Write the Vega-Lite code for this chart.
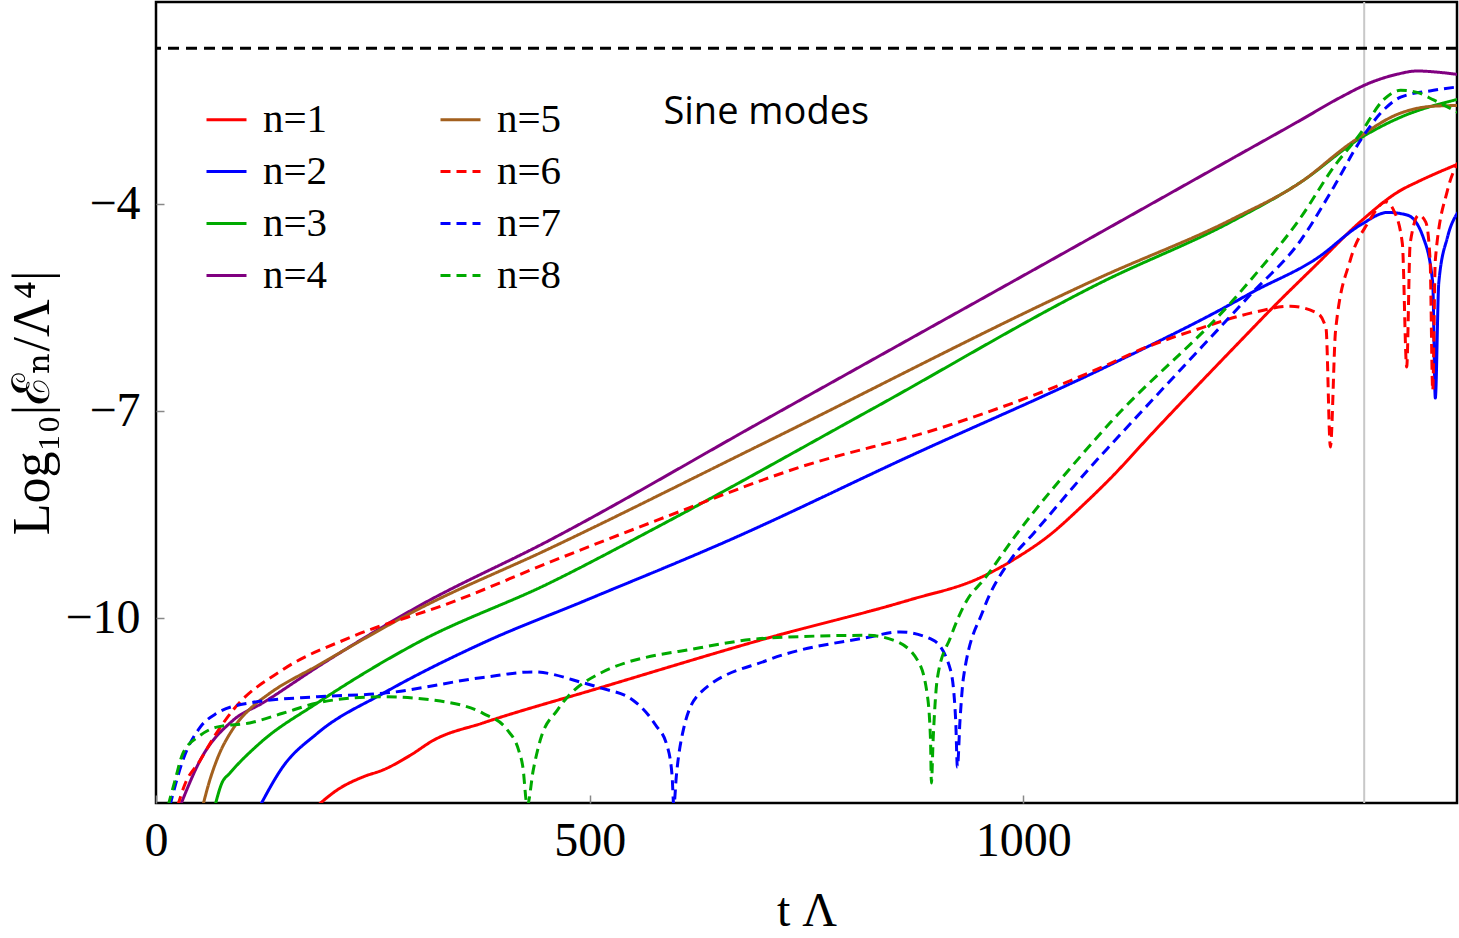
{
  "$schema": "https://vega.github.io/schema/vega-lite/v6.json",
  "width": 1301,
  "height": 801,
  "autosize": {"type": "none"},
  "padding": {"left": 156, "top": 2, "right": 2, "bottom": 135},
  "background": "white",
  "config": {
    "view": {"stroke": "black", "strokeWidth": 2.5},
    "axis": {
      "grid": false, "domain": false,
      "labelFont": "Liberation Serif", "titleFont": "Liberation Serif, DejaVu Serif",
      "labelColor": "black", "titleColor": "black", "titleFontWeight": "normal",
      "tickColor": "#888888", "tickWidth": 1.5, "tickSize": -8,
      "labelFontSize": 48, "titleFontSize": 48
    }
  },
  "datasets": {
    "curves": [
      {"n":"n=1","t":186,"v":-12.72},{"n":"n=1","t":209,"v":-12.49},{"n":"n=1","t":239,"v":-12.30},{"n":"n=1","t":262,"v":-12.20},{"n":"n=1","t":293,"v":-11.99},{"n":"n=1","t":320,"v":-11.77},{"n":"n=1","t":377,"v":-11.52},{"n":"n=1","t":512,"v":-11.01},{"n":"n=1","t":705,"v":-10.29},{"n":"n=1","t":868,"v":-9.74},{"n":"n=1","t":951,"v":-9.41},{"n":"n=1","t":993,"v":-9.12},{"n":"n=1","t":1030,"v":-8.80},{"n":"n=1","t":1069,"v":-8.36},{"n":"n=1","t":1100,"v":-7.98},{"n":"n=1","t":1148,"v":-7.33},{"n":"n=1","t":1262,"v":-5.83},{"n":"n=1","t":1282,"v":-5.57},{"n":"n=1","t":1340,"v":-4.85},{"n":"n=1","t":1389,"v":-4.25},{"n":"n=1","t":1435,"v":-3.80},{"n":"n=1","t":1454,"v":-3.68},{"n":"n=1","t":1501,"v":-3.42},

      {"n":"n=2","t":120,"v":-12.72},{"n":"n=2","t":146,"v":-12.16},{"n":"n=2","t":186,"v":-11.67},{"n":"n=2","t":262,"v":-11.09},{"n":"n=2","t":377,"v":-10.36},{"n":"n=2","t":496,"v":-9.74},{"n":"n=2","t":661,"v":-8.87},{"n":"n=2","t":866,"v":-7.67},{"n":"n=2","t":1100,"v":-6.33},{"n":"n=2","t":1242,"v":-5.43},{"n":"n=2","t":1262,"v":-5.29},{"n":"n=2","t":1339,"v":-4.78},{"n":"n=2","t":1389,"v":-4.30},{"n":"n=2","t":1420,"v":-4.12},{"n":"n=2","t":1443,"v":-4.16},{"n":"n=2","t":1461,"v":-4.48},{"n":"n=2","t":1472,"v":-5.14},{"n":"n=2","t":1475,"v":-6.81},{"n":"n=2","t":1479,"v":-5.14},{"n":"n=2","t":1489,"v":-4.48},{"n":"n=2","t":1501,"v":-4.12},

      {"n":"n=3","t":68,"v":-12.72},{"n":"n=3","t":76,"v":-12.39},{"n":"n=3","t":85,"v":-12.25},{"n":"n=3","t":120,"v":-11.81},{"n":"n=3","t":186,"v":-11.23},{"n":"n=3","t":301,"v":-10.36},{"n":"n=3","t":454,"v":-9.49},{"n":"n=3","t":578,"v":-8.68},{"n":"n=3","t":830,"v":-6.94},{"n":"n=3","t":1089,"v":-5.14},{"n":"n=3","t":1242,"v":-4.24},{"n":"n=3","t":1320,"v":-3.68},{"n":"n=3","t":1389,"v":-3.04},{"n":"n=3","t":1435,"v":-2.74},{"n":"n=3","t":1501,"v":-2.48},

      {"n":"n=4","t":28,"v":-12.72},{"n":"n=4","t":51,"v":-12.06},{"n":"n=4","t":89,"v":-11.48},{"n":"n=4","t":123,"v":-11.23},{"n":"n=4","t":186,"v":-10.71},{"n":"n=4","t":301,"v":-9.84},{"n":"n=4","t":454,"v":-8.87},{"n":"n=4","t":700,"v":-7.14},{"n":"n=4","t":1089,"v":-4.41},{"n":"n=4","t":1242,"v":-3.33},{"n":"n=4","t":1320,"v":-2.78},{"n":"n=4","t":1366,"v":-2.45},{"n":"n=4","t":1400,"v":-2.24},{"n":"n=4","t":1430,"v":-2.12},{"n":"n=4","t":1454,"v":-2.07},{"n":"n=4","t":1480,"v":-2.09},{"n":"n=4","t":1501,"v":-2.12},

      {"n":"n=5","t":54,"v":-12.72},{"n":"n=5","t":62,"v":-12.35},{"n":"n=5","t":70,"v":-12.06},{"n":"n=5","t":89,"v":-11.60},{"n":"n=5","t":108,"v":-11.32},{"n":"n=5","t":130,"v":-11.10},{"n":"n=5","t":186,"v":-10.69},{"n":"n=5","t":301,"v":-9.88},{"n":"n=5","t":454,"v":-8.99},{"n":"n=5","t":700,"v":-7.47},{"n":"n=5","t":1089,"v":-5.06},{"n":"n=5","t":1242,"v":-4.21},{"n":"n=5","t":1320,"v":-3.68},{"n":"n=5","t":1377,"v":-3.12},{"n":"n=5","t":1435,"v":-2.68},{"n":"n=5","t":1473,"v":-2.58},{"n":"n=5","t":1501,"v":-2.57},

      {"n":"n=6","t":25,"v":-12.72},{"n":"n=6","t":33,"v":-12.42},{"n":"n=6","t":51,"v":-12.06},{"n":"n=6","t":68,"v":-11.70},{"n":"n=6","t":89,"v":-11.33},{"n":"n=6","t":146,"v":-10.75},{"n":"n=6","t":224,"v":-10.28},{"n":"n=6","t":339,"v":-9.78},{"n":"n=6","t":454,"v":-9.19},{"n":"n=6","t":578,"v":-8.58},{"n":"n=6","t":743,"v":-7.81},{"n":"n=6","t":908,"v":-7.23},{"n":"n=6","t":1100,"v":-6.31},{"n":"n=6","t":1131,"v":-6.13},{"n":"n=6","t":1204,"v":-5.80},{"n":"n=6","t":1262,"v":-5.58},{"n":"n=6","t":1308,"v":-5.48},{"n":"n=6","t":1339,"v":-5.58},{"n":"n=6","t":1349,"v":-5.80},{"n":"n=6","t":1354,"v":-7.52},{"n":"n=6","t":1360,"v":-5.83},{"n":"n=6","t":1377,"v":-4.81},{"n":"n=6","t":1397,"v":-4.28},{"n":"n=6","t":1418,"v":-3.97},{"n":"n=6","t":1427,"v":-4.09},{"n":"n=6","t":1437,"v":-4.57},{"n":"n=6","t":1442,"v":-6.36},{"n":"n=6","t":1446,"v":-4.57},{"n":"n=6","t":1456,"v":-4.16},{"n":"n=6","t":1464,"v":-4.26},{"n":"n=6","t":1469,"v":-4.81},{"n":"n=6","t":1472,"v":-6.70},{"n":"n=6","t":1475,"v":-4.81},{"n":"n=6","t":1489,"v":-3.80},{"n":"n=6","t":1501,"v":-3.40},

      {"n":"n=7","t":16,"v":-12.72},{"n":"n=7","t":31,"v":-12.06},{"n":"n=7","t":51,"v":-11.58},{"n":"n=7","t":70,"v":-11.38},{"n":"n=7","t":108,"v":-11.23},{"n":"n=7","t":186,"v":-11.14},{"n":"n=7","t":262,"v":-11.09},{"n":"n=7","t":377,"v":-10.86},{"n":"n=7","t":435,"v":-10.78},{"n":"n=7","t":493,"v":-10.94},{"n":"n=7","t":512,"v":-11.01},{"n":"n=7","t":550,"v":-11.19},{"n":"n=7","t":576,"v":-11.55},{"n":"n=7","t":589,"v":-11.84},{"n":"n=7","t":595,"v":-12.28},{"n":"n=7","t":597,"v":-12.72},{"n":"n=7","t":600,"v":-12.28},{"n":"n=7","t":608,"v":-11.62},{"n":"n=7","t":627,"v":-11.09},{"n":"n=7","t":705,"v":-10.61},{"n":"n=7","t":820,"v":-10.28},{"n":"n=7","t":858,"v":-10.20},{"n":"n=7","t":896,"v":-10.32},{"n":"n=7","t":916,"v":-10.75},{"n":"n=7","t":922,"v":-11.48},{"n":"n=7","t":924,"v":-12.16},{"n":"n=7","t":927,"v":-11.48},{"n":"n=7","t":931,"v":-10.86},{"n":"n=7","t":954,"v":-9.88},{"n":"n=7","t":985,"v":-9.16},{"n":"n=7","t":1012,"v":-8.77},{"n":"n=7","t":1089,"v":-7.65},{"n":"n=7","t":1100,"v":-7.50},{"n":"n=7","t":1242,"v":-5.58},{"n":"n=7","t":1262,"v":-5.31},{"n":"n=7","t":1320,"v":-4.52},{"n":"n=7","t":1358,"v":-3.75},{"n":"n=7","t":1389,"v":-3.07},{"n":"n=7","t":1415,"v":-2.64},{"n":"n=7","t":1435,"v":-2.45},{"n":"n=7","t":1473,"v":-2.35},{"n":"n=7","t":1501,"v":-2.30},

      {"n":"n=8","t":14,"v":-12.72},{"n":"n=8","t":22,"v":-12.35},{"n":"n=8","t":31,"v":-11.96},{"n":"n=8","t":51,"v":-11.70},{"n":"n=8","t":70,"v":-11.58},{"n":"n=8","t":108,"v":-11.52},{"n":"n=8","t":146,"v":-11.38},{"n":"n=8","t":186,"v":-11.23},{"n":"n=8","t":224,"v":-11.16},{"n":"n=8","t":262,"v":-11.14},{"n":"n=8","t":320,"v":-11.19},{"n":"n=8","t":377,"v":-11.38},{"n":"n=8","t":405,"v":-11.62},{"n":"n=8","t":418,"v":-11.91},{"n":"n=8","t":423,"v":-12.16},{"n":"n=8","t":428,"v":-12.72},{"n":"n=8","t":435,"v":-12.20},{"n":"n=8","t":443,"v":-11.77},{"n":"n=8","t":463,"v":-11.33},{"n":"n=8","t":512,"v":-10.80},{"n":"n=8","t":627,"v":-10.43},{"n":"n=8","t":705,"v":-10.29},{"n":"n=8","t":820,"v":-10.25},{"n":"n=8","t":850,"v":-10.32},{"n":"n=8","t":878,"v":-10.61},{"n":"n=8","t":889,"v":-11.09},{"n":"n=8","t":893,"v":-11.77},{"n":"n=8","t":894,"v":-12.39},{"n":"n=8","t":896,"v":-11.77},{"n":"n=8","t":901,"v":-10.86},{"n":"n=8","t":916,"v":-10.28},{"n":"n=8","t":935,"v":-9.74},{"n":"n=8","t":954,"v":-9.45},{"n":"n=8","t":993,"v":-8.77},{"n":"n=8","t":1069,"v":-7.61},{"n":"n=8","t":1100,"v":-7.17},{"n":"n=8","t":1242,"v":-5.39},{"n":"n=8","t":1262,"v":-5.10},{"n":"n=8","t":1320,"v":-4.19},{"n":"n=8","t":1358,"v":-3.46},{"n":"n=8","t":1389,"v":-2.97},{"n":"n=8","t":1415,"v":-2.49},{"n":"n=8","t":1435,"v":-2.35},{"n":"n=8","t":1454,"v":-2.38},{"n":"n=8","t":1473,"v":-2.49},{"n":"n=8","t":1501,"v":-2.67}
    ]
  },
  "layer": [
    {
      "data": {"values": [{}]},
      "mark": {"type": "rule", "color": "#c8c8c8", "strokeWidth": 2},
      "encoding": {"x": {"datum": 1393, "type": "quantitative", "title": "t Λ"}}
    },
    {
      "data": {"values": [{}]},
      "mark": {"type": "rule", "color": "black", "strokeWidth": 3, "strokeDash": [11, 7]},
      "encoding": {"y": {"datum": -1.74, "type": "quantitative", "title": "Log₁₀|ℰₙ/Λ⁴|"}}
    },
    {
      "data": {"name": "curves"},
      "mark": {"type": "line", "strokeWidth": 3, "interpolate": "monotone", "clip": true},
      "encoding": {
        "x": {"field": "t", "type": "quantitative", "title": "t Λ",
              "scale": {"domain": [0, 1500], "nice": false, "zero": false},
              "axis": {"values": [0, 500, 1000], "format": "d", "labelPadding": 22, "titlePadding": 22, "labelFlush": false}},
        "y": {"field": "v", "type": "quantitative", "title": "Log₁₀|ℰₙ/Λ⁴|",
              "scale": {"domain": [-12.68, -1.07], "nice": false, "zero": false},
              "axis": {"values": [-4, -7, -10], "format": "d", "labelPadding": 24, "titlePadding": 5, "titleFontSize": 52}},
        "color": {"field": "n", "type": "nominal",
          "scale": {"domain": ["n=1","n=2","n=3","n=4","n=5","n=6","n=7","n=8"],
                    "range": ["#ff0000","#0000ff","#00aa00","#800080","#a3601e","#ff0000","#0000ff","#00aa00"]},
          "legend": {"title": null, "orient": "none", "legendX": 49, "legendY": 96, "columns": 2, "columnPadding": 106, "rowPadding": 10, "symbolType": "stroke", "symbolSize": 1600, "symbolStrokeWidth": 3, "labelFont": "Liberation Serif", "labelFontSize": 41, "labelOffset": 15, "labelColor": "black", "padding": 0, "labelLimit": 300}},
        "strokeDash": {"field": "n", "type": "nominal",
          "scale": {"domain": ["n=1","n=2","n=3","n=4","n=5","n=6","n=7","n=8"],
                    "range": [[1,0],[1,0],[1,0],[1,0],[1,0],[10,6],[10,6],[10,6]]},
          "legend": {"title": null, "orient": "none", "legendX": 49, "legendY": 96, "columns": 2, "columnPadding": 106, "rowPadding": 10, "symbolType": "stroke", "symbolSize": 1600, "symbolStrokeWidth": 3, "labelFont": "Liberation Serif", "labelFontSize": 41, "labelOffset": 15, "labelColor": "black", "padding": 0, "labelLimit": 300}}
      }
    },
    {
      "data": {"values": [{}]},
      "mark": {"type": "text", "text": "Sine modes", "font": "Open Sans", "fontSize": 38, "color": "black", "align": "center", "baseline": "middle"},
      "encoding": {"x": {"datum": 703.6, "type": "quantitative", "title": "t Λ"}, "y": {"datum": -2.68, "type": "quantitative", "title": "Log₁₀|ℰₙ/Λ⁴|"}}
    }
  ]
}
